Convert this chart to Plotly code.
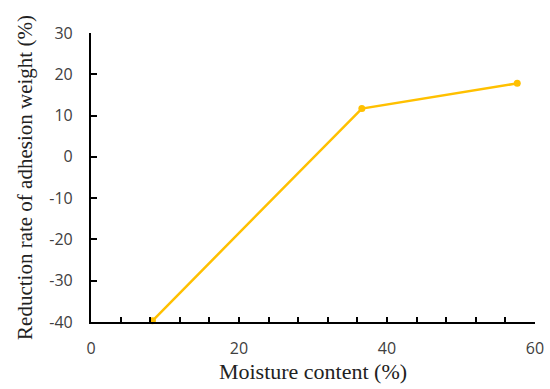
import plotly.graph_objects as go

moisture = [8.3, 36.6, 57.6]
reduction = [-39.7, 11.7, 17.8]

x_tickvals = list(range(0, 61, 4))
x_ticktext = [str(v) if v % 20 == 0 else "" for v in x_tickvals]
y_tickvals = [-40, -30, -20, -10, 0, 10, 20, 30]
y_ticktext = ["-40", "-30", "-20", "-10", "0", "10", "20", "30"]

fig = go.Figure()
fig.add_trace(go.Scatter(
    x=moisture, y=reduction, mode="lines+markers",
    line=dict(color="#FFC000", width=2.5),
    marker=dict(color="#FFC000", size=7),
    cliponaxis=False, showlegend=False,
))

tickfont = dict(family="Open Sans, Liberation Sans, sans-serif", size=16, color="#404040")
titlefont = dict(family="Liberation Serif, Times New Roman, serif", size=21, color="#222222")

fig.update_layout(
    width=550, height=389,
    margin=dict(l=91, r=15, t=33, b=67),
    paper_bgcolor="white", plot_bgcolor="white",
    xaxis=dict(
        range=[0, 60], tickvals=x_tickvals, ticktext=x_ticktext,
        ticks="inside", ticklen=5, tickwidth=2, tickcolor="black",
        showline=True, linecolor="black", linewidth=2.2,
        showgrid=False, zeroline=False, tickfont=tickfont,
        ticklabelstandoff=11, automargin=False,
        title=dict(text="Moisture content (%)", font=dict(titlefont, size=22), standoff=2),
    ),
    yaxis=dict(
        range=[-40, 30], tickvals=y_tickvals, ticktext=y_ticktext,
        ticks="inside", ticklen=6, tickwidth=2, tickcolor="black",
        showline=True, linecolor="black", linewidth=2.2,
        showgrid=False, zeroline=False, tickfont=tickfont,
        ticklabelstandoff=13, automargin=False,
        title=dict(text="Reduction rate of adhesion weight (%)", font=titlefont, standoff=11),
    ),
)

fig.write_html(
    "out.html",
    config={"displayModeBar": False},
    post_script="document.body.style.margin='0';document.body.style.overflow='hidden';",
)
